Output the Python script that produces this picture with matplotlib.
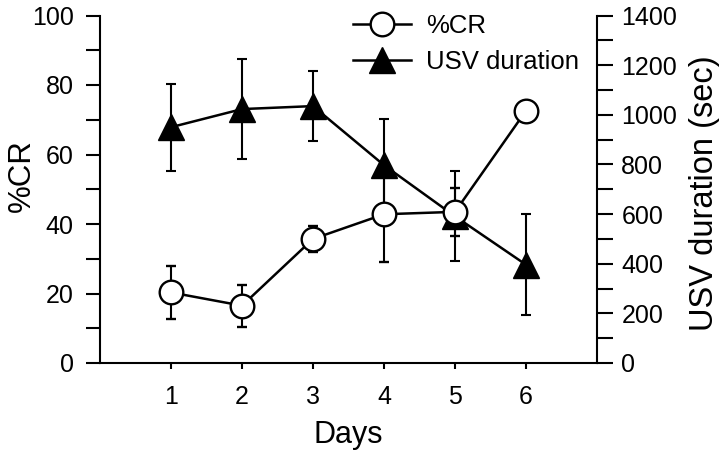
import matplotlib
matplotlib.use("Agg")
import matplotlib.pyplot as plt
from matplotlib.ticker import MultipleLocator
from matplotlib.lines import Line2D

plt.rcParams['font.family'] = ['Liberation Sans', 'DejaVu Sans']

days = [1, 2, 3, 4, 5, 6]
cr_mean = [20.3, 16.5, 35.7, 42.8, 43.5, 72.6]
cr_err = [7.6, 6.0, 3.7, 13.8, 7.0, 0.0]
usv_mean = [950, 1023, 1035, 797, 591, 396]
usv_err = [175, 200, 140, 185, 181, 203]

fig = plt.figure(figsize=(7.2, 4.5), dpi=100)
ax = fig.add_axes([100/720, 1-363/450, 497/720, 347.5/450])
ax2 = ax.twinx()

ax2.errorbar(days, usv_mean, yerr=usv_err, color='black', lw=1.8, marker='^',
             ms=19, mfc='black', mec='black', elinewidth=1.5, capsize=3.5,
             capthick=1.5, clip_on=False)
ax.errorbar(days, cr_mean, yerr=cr_err, color='black', lw=1.8, marker='o',
            ms=17, mfc='white', mec='black', mew=1.7, elinewidth=1.5,
            capsize=3.5, capthick=1.5, clip_on=False)

ax.set_zorder(ax2.get_zorder() + 1)
ax.patch.set_visible(False)

ax.set_xlim(0, 7)
ax.set_ylim(0, 100)
ax2.set_ylim(0, 1400)
ax.set_xticks(days)
ax.yaxis.set_major_locator(MultipleLocator(20))
ax.yaxis.set_minor_locator(MultipleLocator(10))
ax2.yaxis.set_major_locator(MultipleLocator(200))
ax2.yaxis.set_minor_locator(MultipleLocator(100))

for a in (ax, ax2):
    a.spines['top'].set_visible(False)
    for s in a.spines.values():
        s.set_linewidth(1.5)
ax.spines['right'].set_visible(False)
ax2.spines['left'].set_visible(False)
ax2.spines['bottom'].set_visible(False)

ax.tick_params(axis='y', which='both', length=10, width=1.5, labelsize=18,
               direction='out', pad=9)
ax2.tick_params(axis='y', which='both', length=11.5, width=1.5, labelsize=18,
                direction='out', pad=6)
ax.tick_params(axis='x', length=4, width=1.5, labelsize=18, direction='out', pad=12)

ax.set_xlabel('Days', fontsize=22, labelpad=8)
ax.set_ylabel('%CR', fontsize=22.5, va='center')
ax.yaxis.set_label_coords(-0.158, 0.54)
ax2.set_ylabel('USV duration (sec)', fontsize=23.5, va='center', rotation=90)
ax2.yaxis.set_label_coords(1.217, 0.488)

handles = [
    Line2D([], [], color='black', lw=1.8, marker='o', ms=17, mfc='white',
           mec='black', mew=1.7),
    Line2D([], [], color='black', lw=1.8, marker='^', ms=19, mfc='black',
           mec='black'),
]
labels = ['%CR', 'USV duration']
leg = ax.legend(handles, labels, loc='upper left', bbox_to_anchor=(340/720, 0.997),
                bbox_transform=fig.transFigure, frameon=False, fontsize=18.5,
                handlelength=2.25, handletextpad=0.6, labelspacing=0.45,
                borderaxespad=0.1)

fig.savefig('out.png', dpi=100)
